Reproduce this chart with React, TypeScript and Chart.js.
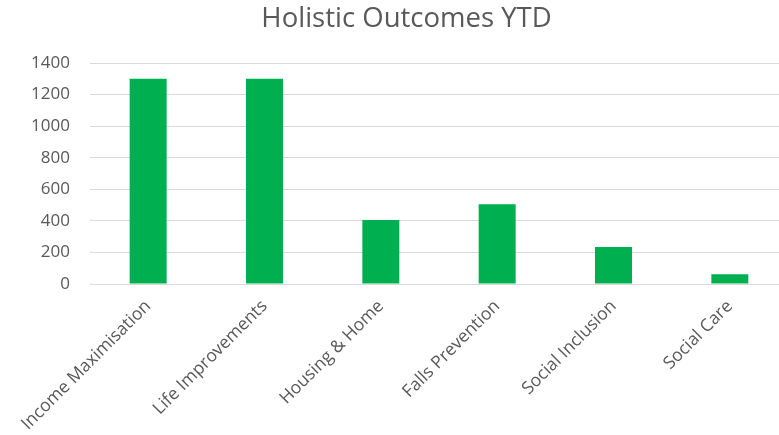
import React, { useEffect, useRef } from "react";
import { Chart, registerables } from "chart.js";

Chart.register(...registerables);

const categories = [
  "Income Maximisation",
  "Life Improvements",
  "Housing & Home",
  "Falls Prevention",
  "Social Inclusion",
  "Social Care",
];
const outcomes = [1300, 1300, 405, 505, 235, 62];
const chartTitle = "Holistic Outcomes YTD";
const yMin = 0;
const yMax = 1400;
const yStep = 200;

const FONT = "'Open Sans', 'Liberation Sans', sans-serif";
const TEXT = "#595959";
const GRID = "#d9d9d9";
const GREEN = "#00B050";

export default function App() {
  const ref = useRef<HTMLCanvasElement | null>(null);

  useEffect(() => {
    if (!ref.current) return;
    const chart = new Chart(ref.current, {
      type: "bar",
      data: {
        labels: categories,
        datasets: [
          {
            label: "Outcomes",
            data: outcomes,
            backgroundColor: GREEN,
            borderWidth: 0,
            categoryPercentage: 1,
            barPercentage: 0.318,
          },
        ],
      },
      options: {
        responsive: false,
        animation: false,
        layout: { padding: { left: 25, right: 27, top: 0, bottom: 0 } },
        plugins: {
          legend: { display: false },
          tooltip: { enabled: false },
          title: {
            display: true,
            text: chartTitle,
            color: TEXT,
            font: { family: FONT, size: 27.5, weight: "normal" },
            padding: { top: 3, bottom: 27 },
          },
        },
        scales: {
          x: {
            offset: true,
            grid: { display: false, drawTicks: false },
            border: { display: true, color: GRID, width: 1 },
            ticks: {
              color: TEXT,
              font: { family: FONT, size: 17.5 },
              minRotation: 45,
              maxRotation: 45,
              autoSkip: false,
              padding: 12,
            },
            afterFit: (s: any) => {
              s.height = 151;
              s.paddingLeft = 0;
              s.paddingRight = 0;
            },
          },
          y: {
            min: yMin,
            max: yMax,
            grid: { color: GRID, lineWidth: 1, drawTicks: false },
            border: { display: false },
            ticks: {
              stepSize: yStep,
              color: TEXT,
              font: { family: FONT, size: 17 },
              padding: 20,
              callback: (v: any) => String(v),
            },
            afterFit: (s: any) => {
              s.width = 65;
              s.paddingTop = 0;
              s.paddingBottom = 0;
            },
          },
        },
      },
    });
    return () => chart.destroy();
  }, []);

  return (
    <div
      style={{
        position: "fixed",
        left: 0,
        top: 0,
        width: 779,
        height: 435,
        overflow: "hidden",
        background: "#fff",
      }}
    >
      <canvas ref={ref} width={815} height={435} style={{ display: "block" }} />
    </div>
  );
}
